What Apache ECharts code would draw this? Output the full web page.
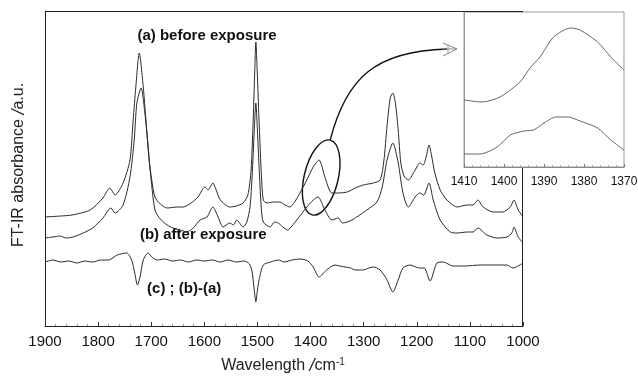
<!DOCTYPE html>
<html>
<head>
<meta charset="utf-8">
<script src="https://cdn.jsdelivr.net/npm/echarts@6/dist/echarts.min.js"></script>
<style>
  html, body { margin: 0; padding: 0; background: #fff; }
  #chart { width: 638px; height: 376px; }
</style>
</head>
<body>
<div id="chart"></div>
<script>
// FT-IR spectra [wavenumber (cm-1), absorbance (a.u., offset)]
const spectrumBefore = [
  [1900,109],[1870,110],[1849,111],[1815,116],[1791,128],[1778,138],[1768,131],[1753,143],
  [1740,166],[1734,206],[1729,239],[1722.5,273],[1715,239],[1710,206],[1704,166],[1699,146],
  [1693,129],[1683,122],[1670,118],[1651,119],[1640,119],[1625,123],[1612,129],[1599,139],
  [1593,136],[1584,143],[1577,135],[1570,126],[1552,119],[1540,120],[1527,123],[1518,131],
  [1512,156],[1508,206],[1505,256],[1503,284],[1500.5,256],[1497,206],[1493,156],[1489,126],
  [1482,123],[1470,124],[1458,124],[1448,121],[1439,119],[1430,124],[1420,133],[1407,146],
  [1395,159],[1384,166],[1373,149],[1360,133],[1348,133],[1331,134],[1316,138],[1301,141],
  [1282,143],[1269,146],[1262,165],[1256,200],[1250,228],[1245,233],[1240,222],[1235,196],
  [1230,163],[1224,150],[1216,146],[1203,156],[1194,163],[1188,161],[1182,170],[1177,181],
  [1172,170],[1166,153],[1156,136],[1145,127],[1137,123],[1124,119],[1105,121],[1094,121],
  [1085,126],[1075,119],[1056,114],[1038,114],[1024,119],[1017,126],[1009,116],[1000,109]
];
const spectrumAfter = [
  [1900,88],[1885,89],[1872,90],[1860,88],[1847,89],[1837,91],[1828,93],[1810,98],[1791,108],
  [1776,118],[1768,113],[1753,121],[1740,149],[1732,186],[1727,223],[1719,238],[1712,213],
  [1706,181],[1702,156],[1693,116],[1683,107],[1670,101],[1659,98],[1645,96],[1633,94],
  [1621,98],[1608,106],[1595,109],[1584,119],[1574,109],[1565,99],[1552,103],[1545,101],
  [1539,106],[1527,99],[1520,104],[1514,119],[1510,150],[1506,195],[1503,223],[1500,195],
  [1497,160],[1493,120],[1489,104],[1476,99],[1468,104],[1461,103],[1452,99],[1443,96],
  [1435,100],[1426,106],[1407,119],[1395,126],[1386,129],[1373,116],[1360,106],[1348,108],
  [1340,103],[1331,104],[1322,106],[1313,109],[1294,116],[1275,124],[1265,139],[1256,166],
  [1245,183],[1235,163],[1226,133],[1216,119],[1203,129],[1194,133],[1187,131],[1177,143],
  [1169,126],[1156,106],[1137,94],[1124,93],[1105,94],[1094,94],[1085,98],[1068,91],
  [1049,88],[1030,89],[1021,93],[1017,99],[1009,89],[1000,83]
];
const spectrumDiff = [
  [1900,64],[1885,66],[1870,64],[1855,65],[1840,63],[1825,65],[1810,64],[1795,66],[1780,66],
  [1764,71],[1746,73],[1737,66],[1731,53],[1726,41],[1721,49],[1715,66],[1706,73],[1697,68],
  [1688,66],[1675,67],[1660,65],[1645,66],[1630,64],[1615,66],[1600,65],[1585,66],[1570,64],
  [1555,66],[1540,64],[1525,65],[1515,62],[1510,54],[1506,36],[1503,24],[1500,36],[1497,46],
  [1489,61],[1475,64],[1460,66],[1450,64],[1435,66],[1420,67],[1405,65],[1395,59],[1384,49],
  [1370,56],[1354,61],[1345,60],[1335,59],[1325,58],[1316,56],[1301,56],[1290,58],[1282,59],
  [1269,56],[1256,46],[1245,34],[1235,46],[1226,58],[1213,61],[1195,58],[1186,58],[1175,45],
  [1162,63],[1150,64],[1132,60],[1110,60],[1080,61],[1050,61],[1030,61],[1019,58],[1000,63]
];
// Enlarged 1410-1370 cm-1 region
const insetBefore = [
  [1410,67],[1405.5,65],[1401,70],[1396,85],[1393.5,99],[1391,110],[1387.6,130],
  [1383.3,139],[1381,137],[1376.6,125],[1373.3,110],[1370,97]
];
const insetAfter = [
  [1410,13],[1406,13],[1401.7,20],[1398.4,32],[1395,36],[1392.6,37],[1390,44],
  [1387,50],[1384,50],[1381,46],[1376.6,39],[1373.3,27],[1370,17]
];
const curveLabels = ['(a) before exposure', '(b) after exposure', '(c) ; (b)-(a)'];
const mainRange = [1000, 1900];
const mainValueRange = [0, 315];
const insetRange = [1370, 1410];
const insetValueRange = [0, 155];

const FONT = '"Liberation Sans", Arial, sans-serif';
const chart = echarts.init(document.getElementById('chart'), null, { renderer: 'canvas' });

const lineSeries = (data, xi, z, color, width) => ({
  type: 'line', data, xAxisIndex: xi, yAxisIndex: xi, showSymbol: false, symbol: 'none',
  smooth: 0.25, z, animation: false,
  lineStyle: { color, width }
});
const plainNumber = (v) => String(v);

chart.setOption({
  animation: false,
  backgroundColor: '#fff',
  grid: [
    { left: 45, top: 11, width: 478, height: 315, show: false,
      outerBoundsMode: 'none', containLabel: false },
    { left: 464, top: 12, width: 160, height: 155, show: false,
      outerBoundsMode: 'none', containLabel: false }
  ],
  xAxis: [
    { type: 'value', gridIndex: 0, inverse: true, min: mainRange[0], max: mainRange[1], interval: 100,
      splitLine: { show: false },
      axisLine: { lineStyle: { color: '#222' } },
      axisTick: { inside: true, length: 4, lineStyle: { color: '#333' } },
      minorTick: { show: true, splitNumber: 5, length: 2, lineStyle: { color: '#999' } },
      axisLabel: { fontSize: 15, color: '#111', fontFamily: FONT, margin: 8, formatter: plainNumber } },
    { type: 'value', gridIndex: 1, inverse: true, min: insetRange[0], max: insetRange[1], interval: 10,
      z: 12, splitLine: { show: false },
      axisLine: { lineStyle: { color: '#888' } },
      axisTick: { inside: true, length: 3, lineStyle: { color: '#777' } },
      minorTick: { show: true, splitNumber: 5, length: 2, lineStyle: { color: '#aaa' } },
      axisLabel: { fontSize: 12, color: '#111', fontFamily: FONT, margin: 9, formatter: plainNumber } }
  ],
  yAxis: [
    { type: 'value', gridIndex: 0, min: mainValueRange[0], max: mainValueRange[1], splitLine: { show: false },
      axisLine: { show: true, lineStyle: { color: '#222' } }, axisTick: { show: false },
      axisLabel: { show: false } },
    { type: 'value', gridIndex: 1, min: insetValueRange[0], max: insetValueRange[1], z: 12,
      splitLine: { show: false },
      axisLine: { show: true, lineStyle: { color: '#999' } }, axisTick: { show: false },
      axisLabel: { show: false } }
  ],
  series: [
    lineSeries(spectrumBefore, 0, 2, '#2a2a2a', 1),
    lineSeries(spectrumAfter, 0, 2, '#2a2a2a', 1),
    lineSeries(spectrumDiff, 0, 2, '#2a2a2a', 1),
    lineSeries(insetBefore, 1, 12, '#555', 0.9),
    lineSeries(insetAfter, 1, 12, '#555', 0.9)
  ]
});

// Annotations: frame, labels, ellipse around the 1384 cm-1 band, arrow to the enlarged view
const px = (pt) => chart.convertToPixel({ gridIndex: 0 }, pt);
const ipx = (pt) => chart.convertToPixel({ gridIndex: 1 }, pt);
const mainTL = px([mainRange[1], mainValueRange[1]]);
const mainBR = px([mainRange[0], mainValueRange[0]]);
const insetTL = ipx([insetRange[1], insetValueRange[1]]);
const insetBR = ipx([insetRange[0], insetValueRange[0]]);
const labelA = px([1595, 290]);
const labelB = px([1602, 91]);
const labelC = px([1638, 37]);
const ellC = px([1380, 148.5]);
const tilt = 13.5 * Math.PI / 180;
const rx = 17, ry = 38.5;
const ellTop = [ellC[0] + ry * Math.sin(tilt), ellC[1] - ry * Math.cos(tilt)];
const insetLeft = ipx([insetRange[1], 118]);
const tip = [insetLeft[0] - 7, insetLeft[1]];

const boldText = (pos, text) => ({
  type: 'text', x: pos[0], y: pos[1],
  style: { text, font: 'bold 15px ' + FONT, fill: '#111', align: 'center', verticalAlign: 'middle' }
});
const frameLine = (x1, y1, x2, y2, stroke) => ({
  type: 'line', silent: true, shape: { x1, y1, x2, y2 }, style: { stroke, lineWidth: 1 }
});

chart.setOption({
  graphic: [
    // frame of the enlarged view
    { type: 'rect', silent: true,
      shape: { x: insetTL[0], y: insetTL[1], width: insetBR[0] - insetTL[0], height: insetBR[1] - insetTL[1] },
      style: { fill: 'none', stroke: '#999', lineWidth: 1 } },
    // top and right edges of the main frame (right edge runs below the enlarged view)
    frameLine(mainTL[0], Math.round(mainTL[1]) + 0.5, mainBR[0], Math.round(mainTL[1]) + 0.5, '#222'),
    frameLine(Math.round(mainBR[0]) - 0.5, insetBR[1], Math.round(mainBR[0]) - 0.5, mainBR[1], '#222'),
    boldText(labelA, curveLabels[0]),
    boldText(labelB, curveLabels[1]),
    boldText(labelC, curveLabels[2]),
    { type: 'ellipse', x: ellC[0], y: ellC[1], rotation: -tilt,
      shape: { cx: 0, cy: 0, rx, ry },
      style: { fill: 'none', stroke: '#111', lineWidth: 1.4 } },
    { type: 'bezierCurve',
      shape: { x1: ellTop[0], y1: ellTop[1], cpx1: ellTop[0] + 16, cpy1: ellTop[1] - 62,
               cpx2: ellTop[0] + 45, cpy2: tip[1] + 2, x2: tip[0] - 10, y2: tip[1] },
      style: { fill: 'none', stroke: '#111', lineWidth: 1.4 } },
    { type: 'polyline',
      shape: { points: [[tip[0] - 14, tip[1] - 6], [tip[0], tip[1]], [tip[0] - 14, tip[1] + 7]] },
      style: { fill: 'none', stroke: '#888', lineWidth: 1 } },
    { type: 'polyline',
      shape: { points: [[tip[0] - 15, tip[1]], [tip[0], tip[1]]] },
      style: { fill: 'none', stroke: '#888', lineWidth: 1 } },
    { type: 'polyline',
      shape: { points: [[tip[0] - 9, tip[1] - 4], [tip[0] - 9, tip[1] + 4]] },
      style: { fill: 'none', stroke: '#999', lineWidth: 1 } },
    // Axis titles
    { type: 'text', x: 19, y: 165, rotation: Math.PI / 2,
      style: { text: '{t|FT-IR absorbance }{s|/}{t|a.u.}', align: 'center', verticalAlign: 'middle',
               rich: {
                 t: { font: '16px ' + FONT, fill: '#222' },
                 s: { font: 'italic 18px ' + FONT, fill: '#222' }
               } } },
    { type: 'text', x: 283, y: 366,
      style: { text: '{t|Wavelength }{s|/}{t|cm}{u|-1}',
               align: 'center', verticalAlign: 'middle',
               rich: {
                 t: { font: '16px ' + FONT, fill: '#222' },
                 s: { font: 'italic 18px ' + FONT, fill: '#222' },
                 u: { font: '10px ' + FONT, fill: '#222', verticalAlign: 'top', padding: [0, 0, 8, 0] }
               } } }
  ]
});
</script>
</body>
</html>
